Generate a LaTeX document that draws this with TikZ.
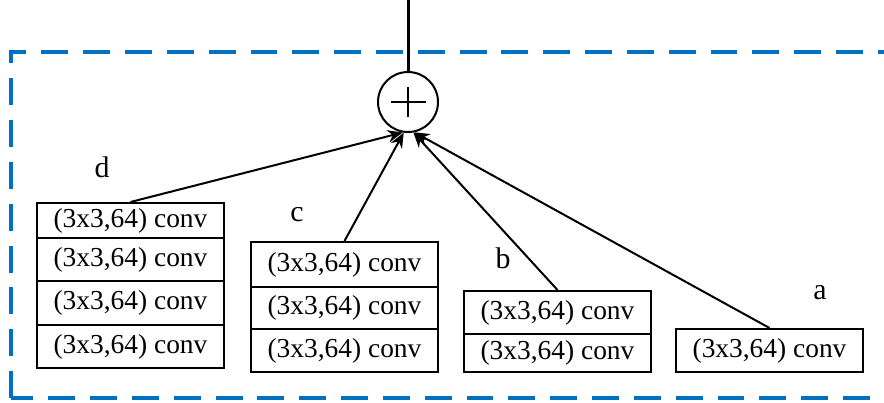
\documentclass[tikz,border=0pt]{standalone}
\usepackage{fontspec}
\setmainfont{Liberation Serif}
\usepackage{tikz}
\usetikzlibrary{arrows.meta}

\definecolor{frameblue}{RGB}{0,112,192}

\tikzset{
  conv/.style={draw,line width=.4mm,minimum width=3.74cm,minimum height=.86cm,inner sep=0pt,
    font=\fontsize{15.6}{18}\selectfont},
  branch/.style={font=\fontsize{17}{20}\selectfont},
  frame/.style={draw=frameblue,line width=.8mm,dash pattern=on 15.3pt off 8.5pt},
}

\begin{document}
\begin{tikzpicture}[>={Stealth[length=3mm,width=2.5mm]}]
\useasboundingbox (0,0) rectangle (17.68,8.04);
\clip (0,0) rectangle (17.68,8.04);
\draw[frame] (0.22,0.08) rectangle (18.2,7.0);

% adder
\node[draw,circle,line width=.4mm,minimum size=1.2cm,inner sep=0pt] (sum) at (8.16,6.0) {};
\draw[line width=.25mm] ([xshift=-.35cm]sum.center) -- ([xshift=.35cm]sum.center);
\draw[line width=.25mm] ([yshift=-.3cm]sum.center) -- ([yshift=.3cm]sum.center);
\coordinate (out) at (8.16,8.1);
\draw[line width=.6mm] (sum.north) -- (out);

% branch d
\node[branch] (labd) at (2.04,4.7) {d};
\node[conv,minimum height=.7cm] (d1) at (2.61,3.63) {(3x3,64) conv};
\node[conv] (d2) at (2.61,2.85) {(3x3,64) conv};
\node[conv,minimum height=.88cm] (d3) at (2.61,1.98) {(3x3,64) conv};
\node[conv] (d4) at (2.61,1.11) {(3x3,64) conv};

% branch c
\node[branch] (labc) at (5.94,3.74) {c};
\node[conv,minimum height=.9cm] (c1) at (6.89,2.75) {(3x3,64) conv};
\node[conv,minimum height=.84cm] (c2) at (6.89,1.88) {(3x3,64) conv};
\node[conv] (c3) at (6.89,1.03) {(3x3,64) conv};

% branch b
\node[branch] (labb) at (10.06,2.88) {b};
\node[conv] (b1) at (11.15,1.79) {(3x3,64) conv};
\node[conv,minimum height=.76cm] (b2) at (11.15,0.98) {(3x3,64) conv};

% branch a
\node[branch] (laba) at (16.4,2.18) {a};
\node[conv] (a1) at (15.39,1.03) {(3x3,64) conv};

\draw[line width=.4mm,->] (d1.north) -- (sum.-100);
\draw[line width=.4mm,->] (c1.north) -- (sum.-98);
\draw[line width=.4mm,->] (b1.north) -- (sum.-80);
\draw[line width=.4mm,->] (a1.north) -- (sum.-78);
\end{tikzpicture}
\end{document}
